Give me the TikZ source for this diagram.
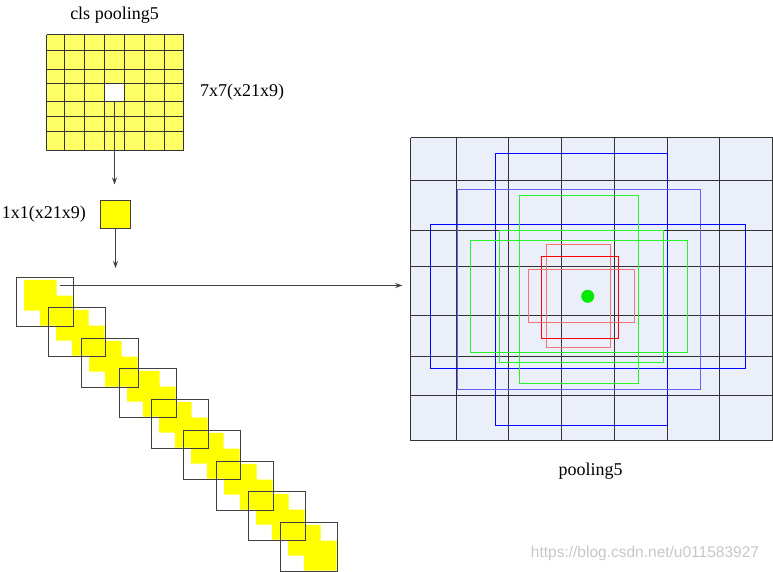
\documentclass[tikz,border=0pt]{standalone}
\usepackage{fontspec}
\setmainfont{Liberation Serif}
\newfontfamily\wmfont{Liberation Sans}
\usetikzlibrary{arrows.meta}
\definecolor{lyel}{RGB}{255,255,102}
\definecolor{pyel}{RGB}{255,255,0}
\definecolor{gfill}{RGB}{234,239,249}
\definecolor{bblue}{RGB}{0,0,255}
\definecolor{lblue}{RGB}{100,100,250}
\definecolor{ggreen}{RGB}{40,245,40}
\definecolor{rred}{RGB}{250,0,0}
\definecolor{lred}{RGB}{245,115,115}
\definecolor{dotgreen}{RGB}{0,235,0}
\tikzset{
  lbl/.style={font=\fontsize{18}{20}\selectfont, inner sep=0pt},
  gridline/.style={draw=black!80, line width=1.5pt},
  conn/.style={draw=black!75, line width=1.2pt, -{Stealth[length=7pt,width=5pt]}},
  stackbox/.style={draw=black!75, line width=1.5pt, minimum width=57pt, minimum height=49pt, inner sep=0pt, anchor=north west},
  rf/.style={line width=1.8pt},
}
\begin{document}
\begin{tikzpicture}[x=1pt,y=-1pt]
\useasboundingbox (0,0) rectangle (773,571);
% ---- top 7x7 grid ----
\node[lbl] (t1) at (114.5,15) {cls pooling5};
\node[fill=lyel, inner sep=0pt, minimum width=137pt, minimum height=116pt] (g7) at (115,92.5) {};
\foreach \c in {46.5, 64.5, 84.5, 104.5, 124.5, 144.5, 164.5, 183.5} {
  \draw[gridline] (\c,34.5) -- (\c,150.5);
}
\foreach \r in {34.5, 50.5, 69.5, 83.5, 101.5, 116.5, 131.5, 150.5} {
  \draw[gridline] (46.5,\r) -- (183.5,\r);
}
\node[draw=black!80, fill=white, line width=1.5pt, minimum width=20pt, minimum height=18pt, inner sep=0pt] (wc) at (114.5,92.5) {};
\node[lbl, anchor=west] (t2) at (200,92) {7x7(x21x9)};
% ---- 1x1 box ----
\node[draw=black!75, fill=pyel, line width=1.5pt, minimum width=30pt, minimum height=28pt, inner sep=0pt] (b1) at (115.5,214.5) {};
\node[lbl, anchor=east] (t3) at (86,214) {1x1(x21x9)};
\coordinate (a1) at (114.5,184.5);
\draw[conn] (wc.south) -- (a1);
\coordinate (a2) at (115.5,268);
\draw[conn] (b1.south) -- (a2);
% ---- stack ----
\foreach \x/\y in {15.5/276.5, 47.5/306.5, 80.5/337.5, 118.5/367.5, 150.5/398.5, 182.5/429.5, 215.5/460.5, 247.5/490.5, 279.5/521.5} {
  \fill[pyel, shift={(\x,\y)}] (8.7,3.3) -- (41,3.3) -- (41,19) -- (57,19) -- (57,49) -- (24.3,49) -- (24.3,34) -- (8.7,34) -- cycle;
}
\foreach \x/\y [count=\n] in {15.5/276.5, 47.5/306.5, 80.5/337.5, 118.5/367.5, 150.5/398.5, 182.5/429.5, 215.5/460.5, 247.5/490.5, 279.5/521.5} {
  \node[stackbox] (s\n) at (\x,\y) {};
}
% ---- right grid ----
\node[fill=gfill, inner sep=0pt, minimum width=362pt, minimum height=303pt] (pg) at (591.5,289) {};
\foreach \c in {410.5, 456.5, 508.5, 561.5, 614.5, 667.5, 719.5, 772.5} {
  \draw[gridline] (\c,137.5) -- (\c,440.5);
}
\foreach \r in {137.5, 180.5, 230.5, 266.5, 315.5, 356.5, 395.5, 440.5} {
  \draw[gridline] (410.5,\r) -- (772.5,\r);
}
\draw[rf, draw=bblue] (495.5,153.5) rectangle (667.5,425.5);
\draw[rf, draw=lblue] (457.5,189.5) rectangle (700.5,389.5);
\draw[rf, draw=bblue] (430.5,224.5) rectangle (745.5,368.5);
\draw[rf, draw=ggreen] (519.5,195.5) rectangle (638.5,383.5);
\draw[rf, draw=ggreen] (499.5,230.5) rectangle (663.5,362.5);
\draw[rf, draw=ggreen] (470.5,240.5) rectangle (687.5,352.5);
\draw[rf, draw=lred] (546.5,244.5) rectangle (610.5,347.5);
\draw[rf, draw=rred] (541.5,256.5) rectangle (618.5,338.5);
\draw[rf, draw=lred] (528.5,269.5) rectangle (634.5,322.5);
\fill[dotgreen] (587.7,296.3) circle (6.5pt);
% ---- connector from stack to grid ----
\coordinate (h0) at (60,285.5);
\draw[conn, shorten >=8pt] (h0) -- (h0 -| pg.west);
% ---- labels ----
\node[lbl] (t4) at (590.5,471) {pooling5};
\node[font=\wmfont\fontsize{15.5}{17}\selectfont, text=black!22, inner sep=0pt] (wm) at (645,553) {https://blog.csdn.net/u011583927};
\end{tikzpicture}
\end{document}
